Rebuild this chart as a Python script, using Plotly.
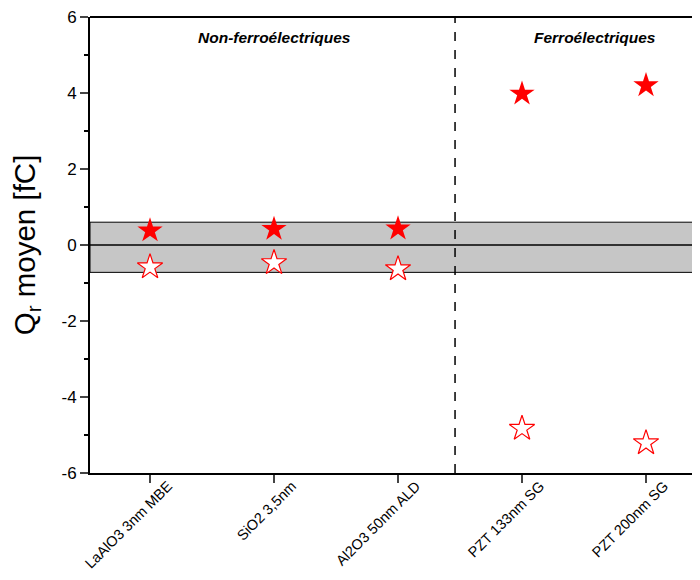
import plotly.graph_objects as go

categories = ["LaAlO3 3nm MBE", "SiO2 3,5nm", "Al2O3 50nm ALD", "PZT 133nm SG", "PZT 200nm SG"]
x_pos = [1, 2, 3, 4, 5]
q_pos = [0.38, 0.42, 0.43, 3.98, 4.2]
q_neg = [-0.58, -0.47, -0.63, -4.83, -5.21]
band_low, band_high = -0.72, 0.6
separator_x = 3.46
y_ticks = [-6, -4, -2, 0, 2, 4, 6]
y_tick_labels = ["-6", "-4", "-2", "0", "2", "4", "6"]

x_range = [0.516, 5.371]

fig = go.Figure()

# grey band
fig.add_shape(type="rect", xref="x", yref="y", x0=x_range[0], x1=x_range[1] + 0.2,
              y0=band_low, y1=band_high, fillcolor="#c6c6c6",
              line=dict(color="black", width=1), layer="below")
# zero line
fig.add_shape(type="line", xref="x", yref="y", x0=x_range[0], x1=x_range[1],
              y0=0, y1=0, line=dict(color="black", width=1.5))
# separator
fig.add_shape(type="line", xref="x", yref="y", x0=separator_x, x1=separator_x,
              y0=-6, y1=6, line=dict(color="black", width=1.5, dash="dash"))
# top frame line
fig.add_shape(type="line", xref="paper", yref="paper", x0=0, x1=1,
              y0=1, y1=1, line=dict(color="black", width=2))

fig.add_trace(go.Scatter(x=x_pos, y=q_pos, mode="markers",
                         marker=dict(symbol="star", size=19, color="#ff0000",
                                     line=dict(width=0)),
                         showlegend=False))
fig.add_trace(go.Scatter(x=x_pos, y=q_neg, mode="markers",
                         marker=dict(symbol="star", size=19, color="white",
                                     line=dict(width=1.2, color="#ff0000")),
                         showlegend=False))

fig.add_annotation(x=2, y=5.45, xref="x", yref="y", text="<b><i>Non-ferroélectriques</i></b>",
                   showarrow=False, font=dict(family="Arial", size=15.5, color="black"))
fig.add_annotation(x=4.59, y=5.45, xref="x", yref="y", text="<b><i>Ferroélectriques</i></b>",
                   showarrow=False, font=dict(family="Arial", size=15.5, color="black"))

fig.update_layout(
    width=684, height=564,
    margin=dict(l=82, r=0, t=9, b=99, autoexpand=False),
    plot_bgcolor="white", paper_bgcolor="white",
    font=dict(family="Arial", color="black"),
    xaxis=dict(range=x_range, tickmode="array", tickvals=x_pos, ticktext=categories,
               tickangle=-45, ticks="outside", ticklen=8, tickwidth=1.5, automargin=False,
               ticklabeloverflow="allow", ticklabelshift=18, ticklabelstandoff=-11,
               showline=True, linecolor="black", linewidth=2, mirror=False,
               showgrid=False, zeroline=False, tickfont=dict(size=14.5, family="Arial")),
    yaxis=dict(range=[-6, 6], tickmode="array", tickvals=y_ticks, ticktext=y_tick_labels,
               ticks="outside", ticklen=8, tickwidth=1.5, automargin=False,
               ticklabeloverflow="allow",
               minor=dict(dtick=1, ticks="outside", ticklen=4, tickwidth=1.5, tickcolor="black"),
               showline=True, linecolor="black", linewidth=2,
               showgrid=False, zeroline=False, tickfont=dict(size=17, family="Arial"),
               title=dict(text="Q<sub>r</sub> moyen [fC]", font=dict(size=29.5, family="Arial"),
                          standoff=17)),
)

fig.write_html("out.html")
